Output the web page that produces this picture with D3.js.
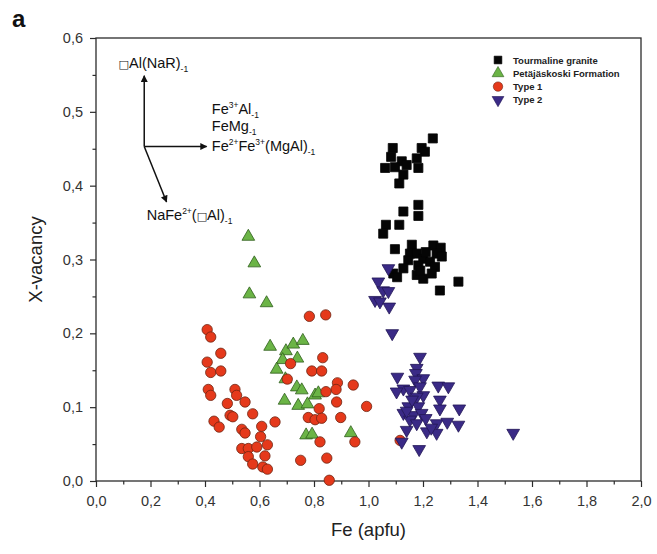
<!DOCTYPE html>
<html>
<head>
<meta charset="utf-8">
<script src="https://cdn.jsdelivr.net/npm/d3@7"></script>
<style>
  body { margin: 0; background: #fff; }
  svg { display: block; font-family: Arial, "Liberation Sans", sans-serif; }
</style>
</head>
<body>
<svg id="chart" width="657" height="554"></svg>
<script>
// Fe (apfu) vs X-site vacancy, four tourmaline groups
const seriesNames = ["Tourmaline granite", "Petäjäskoski Formation", "Type 1", "Type 2"];

const tourmalineGranite = [
  [1.236,0.464],[1.089,0.451],[1.195,0.451],[1.207,0.446],[1.083,0.439],[1.122,0.433],
  [1.177,0.437],[1.061,0.424],[1.097,0.425],[1.140,0.428],[1.183,0.424],[1.128,0.415],
  [1.113,0.403],
  [1.183,0.374],[1.128,0.365],[1.183,0.359],[1.113,0.347],[1.064,0.347],[1.054,0.335],
  [1.097,0.314],[1.159,0.320],[1.238,0.319],[1.265,0.316],[1.152,0.308],[1.177,0.308],
  [1.250,0.308],[1.269,0.304],[1.146,0.299],[1.201,0.301],[1.226,0.297],[1.128,0.288],
  [1.183,0.292],[1.244,0.290],[1.091,0.281],[1.177,0.279],[1.201,0.274],[1.232,0.281],
  [1.330,0.270],[1.262,0.258],[1.105,0.276],[1.210,0.310],[1.190,0.285]
];

const petajaskoski = [
  [0.559,0.331],[0.581,0.295],[0.563,0.253],[0.626,0.241],
  [0.639,0.182],[0.697,0.176],[0.724,0.185],[0.759,0.190],[0.685,0.164],[0.739,0.166],
  [0.663,0.151],[0.695,0.138],[0.737,0.127],[0.755,0.123],[0.804,0.116],[0.816,0.119],
  [0.692,0.109],[0.742,0.102],[0.776,0.104],[0.771,0.062],[0.793,0.063],[0.935,0.065]
];

const type1 = [
  [0.408,0.205],[0.421,0.195],[0.458,0.173],[0.408,0.161],[0.421,0.147],[0.458,0.149],
  [0.412,0.124],[0.421,0.116],[0.510,0.124],[0.516,0.116],[0.482,0.105],[0.547,0.107],
  [0.492,0.089],[0.502,0.087],[0.575,0.091],[0.433,0.081],[0.452,0.073],[0.535,0.070],
  [0.608,0.074],[0.657,0.080],[0.547,0.065],[0.604,0.060],[0.535,0.044],[0.559,0.044],
  [0.590,0.046],[0.629,0.049],[0.559,0.033],[0.620,0.034],[0.575,0.023],[0.612,0.019],
  [0.629,0.016],
  [0.783,0.223],[0.843,0.225],[0.832,0.167],[0.714,0.159],[0.792,0.149],[0.828,0.149],
  [0.702,0.138],[0.886,0.133],[0.944,0.130],[0.881,0.124],[0.844,0.121],[0.883,0.107],
  [0.993,0.101],[0.819,0.098],[0.779,0.086],[0.804,0.083],[0.828,0.085],[0.898,0.086],
  [0.822,0.053],[0.950,0.053],[0.751,0.028],[0.847,0.031],[0.856,0.001],[1.116,0.055]
];

const type2 = [
  [1.073,0.288],[1.036,0.270],[1.054,0.258],[1.073,0.257],[1.024,0.245],[1.042,0.243],
  [1.076,0.236],[1.087,0.200],
  [1.189,0.168],[1.177,0.153],[1.174,0.146],[1.106,0.141],[1.201,0.139],[1.171,0.137],
  [1.128,0.125],[1.103,0.121],[1.152,0.123],[1.189,0.128],[1.256,0.129],[1.293,0.128],
  [1.201,0.116],[1.177,0.114],[1.262,0.110],[1.146,0.101],[1.183,0.101],[1.262,0.098],
  [1.333,0.098],[1.128,0.092],[1.164,0.089],[1.195,0.092],[1.152,0.083],[1.177,0.078],
  [1.250,0.078],[1.289,0.080],[1.330,0.076],[1.140,0.069],[1.214,0.067],[1.250,0.065],
  [1.531,0.065],[1.122,0.053],[1.186,0.043],
  [1.160,0.110],[1.140,0.095],[1.210,0.085],[1.230,0.072]
];

const xTicks = [0, 0.2, 0.4, 0.6, 0.8, 1.0, 1.2, 1.4, 1.6, 1.8, 2.0];
const xMinorTicks = [0.1, 0.3, 0.5, 0.7, 0.9, 1.1, 1.3, 1.5, 1.7, 1.9];
const yTicks = [0, 0.1, 0.2, 0.3, 0.4, 0.5, 0.6];
const yMinorTicks = [0.05, 0.15, 0.25, 0.35, 0.45, 0.55];

// Exchange-vector sketch: origin and arrow tips in data units
const vectorOrigin = [0.177, 0.453];
const vectorTips = [[0.177, 0.549], [0.406, 0.453], [0.259, 0.378]];
// Labels: [x, y, list of [text, kind]]; kind: "n" normal, "sup", "sub", "box" (vacancy square)
const vectorLabels = [
  [0.083, 0.560, [["\u25A1", "box"], ["Al(NaR)", "n"], ["-1", "sub"]]],
  [0.425, 0.497, [["Fe", "n"], ["3+", "sup"], ["Al", "n"], ["-1", "sub"]]],
  [0.425, 0.474, [["FeMg", "n"], ["-1", "sub"]]],
  [0.425, 0.447, [["Fe", "n"], ["2+", "sup"], ["Fe", "n"], ["3+", "sup"], ["(MgAl)", "n"], ["-1", "sub"]]],
  [0.186, 0.353, [["NaFe", "n"], ["2+", "sup"], ["(", "n"], ["\u25A1", "box"], ["Al)", "n"], ["-1", "sub"]]]
];

const svg = d3.select("#chart");
const plot = { left: 96, top: 38, right: 641, bottom: 481 };

const x = d3.scaleLinear().domain([0, 2]).range([plot.left, plot.right]);
const y = d3.scaleLinear().domain([0, 0.6]).range([plot.bottom, plot.top]);

const comma = d3.formatLocale({ decimal: ",", thousands: ".", grouping: [3], currency: ["", ""] }).format(".1f");
const axisColor = "#2b2b2b";

// frame
svg.append("rect")
  .attr("x", plot.left).attr("y", plot.top)
  .attr("width", plot.right - plot.left).attr("height", plot.bottom - plot.top)
  .attr("fill", "none").attr("stroke", axisColor).attr("stroke-width", 1.3);

function styleAxis(g) {
  g.select(".domain").remove();
  g.selectAll("line").attr("stroke", axisColor).attr("stroke-width", 1.2);
  g.selectAll("text").attr("fill", "#333").attr("font-size", 14.5);
}

svg.append("g").attr("transform", `translate(0,${plot.bottom})`)
  .call(d3.axisBottom(x).tickValues(xTicks).tickFormat(comma).tickSize(6).tickPadding(9))
  .call(styleAxis);
svg.append("g").attr("transform", `translate(0,${plot.bottom})`)
  .call(d3.axisBottom(x).tickValues(xMinorTicks).tickFormat("").tickSize(3.5))
  .call(styleAxis);
svg.append("g").attr("transform", `translate(${plot.left},0)`)
  .call(d3.axisLeft(y).tickValues(yTicks).tickFormat(comma).tickSize(6).tickPadding(7))
  .call(styleAxis);
svg.append("g").attr("transform", `translate(${plot.left},0)`)
  .call(d3.axisLeft(y).tickValues(yMinorTicks).tickFormat("").tickSize(3.5))
  .call(styleAxis);

// axis titles
svg.append("text")
  .attr("x", (plot.left + plot.right) / 2).attr("y", 536)
  .attr("text-anchor", "middle").attr("font-size", 18.5).attr("fill", "#222")
  .text("Fe (apfu)");
svg.append("text")
  .attr("transform", `translate(42,${(plot.top + plot.bottom) / 2}) rotate(-90)`)
  .attr("text-anchor", "middle").attr("font-size", 18.5).attr("fill", "#222")
  .text("X-vacancy");

// panel letter
svg.append("text")
  .attr("x", 12).attr("y", 27)
  .attr("font-size", 24).attr("font-weight", "bold").attr("fill", "#111")
  .text("a");

// vector sketch
svg.append("defs").append("marker")
  .attr("id", "head").attr("viewBox", "0 0 10 10").attr("refX", 9).attr("refY", 5)
  .attr("markerWidth", 11).attr("markerHeight", 7).attr("markerUnits", "userSpaceOnUse")
  .attr("orient", "auto")
  .append("path").attr("d", "M0,0 L10,5 L0,10 Z").attr("fill", "#111");

svg.append("g").selectAll("line").data(vectorTips).join("line")
  .attr("x1", x(vectorOrigin[0])).attr("y1", y(vectorOrigin[1]))
  .attr("x2", d => x(d[0])).attr("y2", d => y(d[1]))
  .attr("stroke", "#111").attr("stroke-width", 1.5)
  .attr("marker-end", "url(#head)");

const labelG = svg.append("g").attr("font-size", 14.5).attr("fill", "#111");
vectorLabels.forEach(([lx, ly, parts]) => {
  const t = labelG.append("text").attr("x", x(lx)).attr("y", y(ly));
  parts.forEach(([s, kind]) => {
    const ts = t.append("tspan").text(s);
    if (kind === "sup") ts.attr("font-size", 8.5).attr("baseline-shift", "6");
    else if (kind === "sub") ts.attr("font-size", 8.5).attr("baseline-shift", "-4");
    else if (kind === "box") ts.attr("font-family", "DejaVu Sans").attr("font-size", 11).attr("fill", "#111");
  });
});

// series symbols
const sym = {
  square: d3.symbol().type(d3.symbolSquare).size(82),
  circle: d3.symbol().type(d3.symbolCircle).size(84),
  triangle: d3.symbol().type(d3.symbolTriangle).size(70)
};
const styles = [
  { data: tourmalineGranite, shape: "square", fill: "#050505", stroke: "#050505", rot: 0 },
  { data: petajaskoski, shape: "triangle", fill: "#6bb446", stroke: "#2f5e1c", rot: 0 },
  { data: type1, shape: "circle", fill: "#e5391b", stroke: "#6e2412", rot: 0 },
  { data: type2, shape: "triangle", fill: "#3a2a86", stroke: "#221656", rot: 180 }
];

styles.forEach(s => {
  svg.append("g").selectAll("path").data(s.data).join("path")
    .attr("d", sym[s.shape]())
    .attr("transform", d => `translate(${x(d[0])},${y(d[1])}) rotate(${s.rot})`)
    .attr("fill", s.fill).attr("stroke", s.stroke).attr("stroke-width", 0.8);
});

// legend
const legend = svg.append("g").attr("transform", "translate(498,60)");
const legendSym = {
  square: d3.symbol().type(d3.symbolSquare).size(60),
  circle: d3.symbol().type(d3.symbolCircle).size(70),
  triangle: d3.symbol().type(d3.symbolTriangle).size(60)
};
styles.forEach((s, i) => {
  const row = legend.append("g").attr("transform", `translate(0,${i * 13.3})`);
  row.append("path")
    .attr("d", legendSym[s.shape]())
    .attr("transform", `rotate(${s.rot})`)
    .attr("fill", s.fill).attr("stroke", s.stroke).attr("stroke-width", 0.6);
  row.append("text")
    .attr("x", 15).attr("y", 3.5)
    .attr("font-size", 9.5).attr("font-weight", "bold").attr("fill", "#222")
    .text(seriesNames[i]);
});
</script>
</body>
</html>
